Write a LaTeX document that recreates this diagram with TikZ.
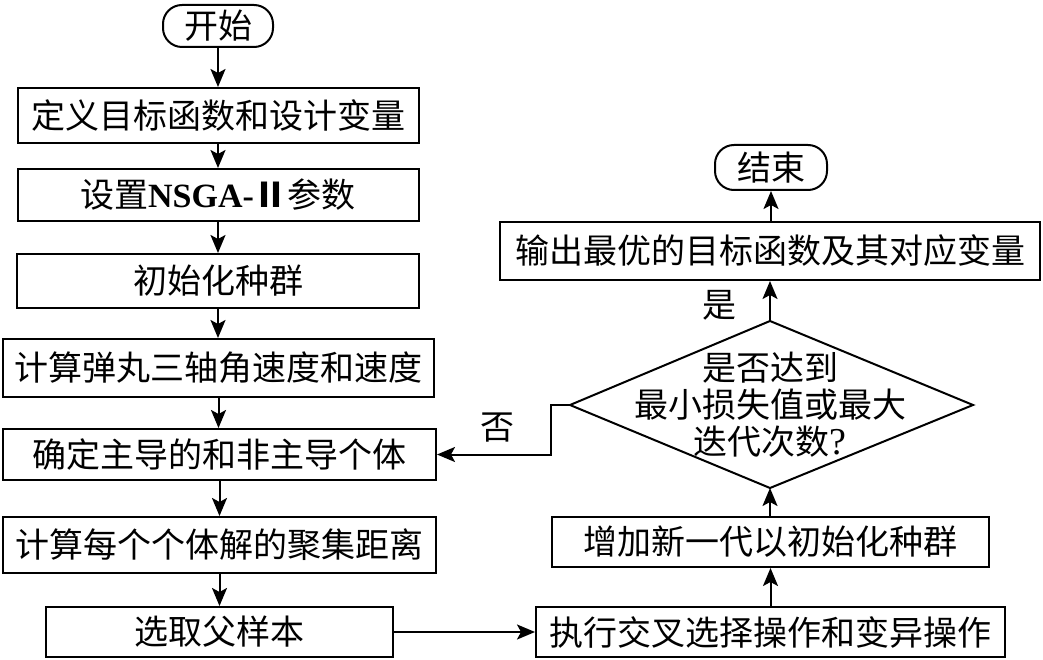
\documentclass[tikz,border=0pt]{standalone}
\usepackage{fontspec}
\setmainfont{Noto Sans CJK SC}
\newfontfamily\lat{Liberation Serif}
\usetikzlibrary{arrows.meta}
\begin{document}
\begin{tikzpicture}[x=1pt,y=-1pt,
  font=\fontsize{34}{37}\selectfont,
  every node/.style={inner sep=0pt},
  box/.style={draw,line width=2pt},
  term/.style={draw,line width=2pt,rounded corners=19pt},
  arr/.style={line width=2pt,-{Stealth[length=18pt,width=15pt,inset=4pt]}},
  edge/.style={line width=2pt}
]
\useasboundingbox (0,0) rectangle (1043,660);
% left column
\node[term,minimum width=110pt,minimum height=42pt] (start) at (218,26) {开始};
\node[box,minimum width=401pt,minimum height=55pt] (b1) at (218,115.5) {定义目标函数和设计变量};
\node[box,minimum width=401pt,minimum height=52pt] (b2) at (218,195) {设置{\lat\bfseries NSGA-}{\bfseries Ⅱ}参数};
\node[box,minimum width=402pt,minimum height=54pt] (b3) at (218,281) {初始化种群};
\node[box,minimum width=431pt,minimum height=58pt] (b4) at (218.5,368) {计算弹丸三轴角速度和速度};
\node[box,minimum width=433pt,minimum height=51pt] (b5) at (219.5,454.5) {确定主导的和非主导个体};
\node[box,minimum width=433pt,minimum height=56pt] (b6) at (219.5,545) {计算每个个体解的聚集距离};
\node[box,minimum width=347pt,minimum height=50pt] (b7) at (219.5,632) {选取父样本};
% right column
\node[term,minimum width=112pt,minimum height=45pt] (end) at (771,167.5) {结束};
\node[box,minimum width=540pt,minimum height=58pt] (out) at (770,251) {输出最优的目标函数及其对应变量};
\coordinate (dL) at (570,405);
\coordinate (dR) at (973,405);
\coordinate (dT) at (770,321);
\coordinate (dB) at (770,488);
\draw[edge] (dL) -- (dT) -- (dR) -- (dB) -- cycle;
\node[align=center] (dtext) at (770,405) {是否达到\\最小损失值或最大\\迭代次数{\lat\fontsize{38}{37}\selectfont ?}};
\node[box,minimum width=437pt,minimum height=50pt] (add) at (770.5,542) {增加新一代以初始化种群};
\node[box,minimum width=469pt,minimum height=50pt] (exec) at (770.5,632) {执行交叉选择操作和变异操作};
\node (no) at (497,428) {否};
\node (yes) at (719,305) {是};
% connectors
\draw[arr] (start.south) -- (start.south |- b1.north);
\draw[arr] (b1.south) -- (b1.south |- b2.north);
\draw[arr] (b2.south) -- (b2.south |- b3.north);
\draw[arr] (b3.south) -- (b3.south |- b4.north);
\draw[arr] (b4.south) -- (b4.south |- b5.north);
\draw[arr] (b5.south) -- (b5.south |- b6.north);
\draw[arr] (b6.south) -- (b6.south |- b7.north);
\draw[arr] (b7.east) -- (b7.east -| exec.west);
\draw[arr] (exec.north) -- (exec.north |- add.south);
\draw[arr] (add.north -| dB) -- (dB);
\draw[arr] (dT) -- (dT |- out.south);
\draw[arr] (end.south |- out.north) -- (end.south);
\draw[arr] (dL) -- ++(-19,0) |- (b5.east);
\end{tikzpicture}
\end{document}
